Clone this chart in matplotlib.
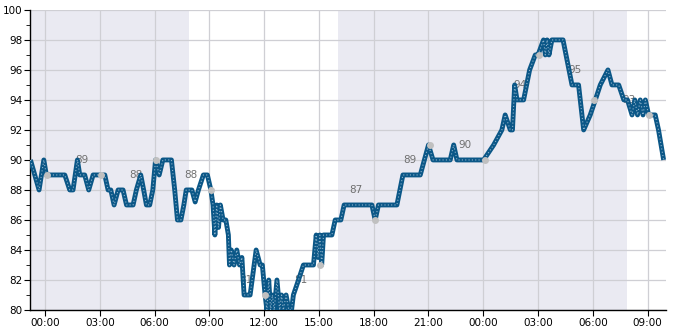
import matplotlib
matplotlib.use("Agg")
import matplotlib.pyplot as plt
from matplotlib.ticker import MultipleLocator

# hours since midnight of day 1
hours = [-0.8, -0.33, -0.07, 0.07, 1.08, 1.35, 1.53, 1.77, 1.90, 2.17, 2.39, 2.63,
         3.27, 3.45, 3.6, 3.78, 4.0, 4.27, 4.46, 4.82, 5.0, 5.24, 5.4, 5.55, 5.73,
         5.9, 6.05, 6.25, 6.45, 6.92, 7.1, 7.25, 7.44, 7.6, 7.73, 8.04, 8.22, 8.4,
         8.67, 8.89, 9.08, 9.2, 9.3, 9.4, 9.5, 9.6, 9.75, 9.9, 10.04, 10.1, 10.2,
         10.35, 10.5, 10.65, 10.78, 10.9, 11.23, 11.56, 11.78, 11.9, 12.05, 12.15,
         12.25, 12.35, 12.45, 12.55, 12.7, 12.85, 12.95, 13.05, 13.2, 13.35, 13.5,
         13.6, 13.88, 14.15, 14.7, 14.85, 14.95, 15.05, 15.15, 15.25, 15.71, 15.89,
         16.2, 16.38, 17.9, 18.08, 18.26, 19.27, 19.6, 20.55, 21.0, 21.25, 22.19,
         22.38, 22.56, 24.02, 24.57, 25.02, 25.2, 25.48, 25.6, 25.72, 25.85, 26.21,
         26.54, 26.85, 27.0, 27.3, 27.4, 27.5, 27.6, 27.76, 28.37, 28.86, 29.22,
         29.5, 29.86, 30.14, 30.41, 30.83, 31.05, 31.42, 31.7, 31.9, 32.15, 32.3,
         32.45, 32.6, 32.75, 32.88, 33.06, 33.42, 33.6, 33.88]
values = [90, 88, 90, 89, 89, 88, 88, 90, 89, 89, 88, 89,
          89, 88, 88, 87, 88, 88, 87, 87, 88, 89, 88, 87, 87,
          88, 90, 89, 90, 90, 88, 86, 86, 87, 88, 88, 87.2, 88,
          89, 89, 88, 87, 85, 87, 85.5, 87, 86, 86, 85, 83, 84,
          83, 84, 83, 83.5, 81, 81, 84, 83, 83, 81, 80,
          82, 80, 81, 80, 82, 80, 81, 80, 81, 80, 80,
          81, 82, 83, 83, 85, 83.5, 85, 83, 85, 85, 86,
          86, 87, 87, 86, 87, 87, 89, 89, 91, 90, 90,
          91, 90, 90, 91, 92, 93, 92, 92, 95, 94, 94,
          96, 97, 97, 98, 97, 98, 97, 98, 98, 95, 95,
          92, 93, 94, 95, 96, 95, 95, 94, 94, 93, 94,
          93, 94, 93, 94, 93, 93, 92, 90]

# 3-hourly readings (grey dots)
dot_hours = [0.1, 3.07, 6.08, 9.1, 12.05, 15.08, 18.08, 21.08, 24.07, 27.08, 30.08, 33.06]
dot_values = [89, 89, 90, 88, 81, 83, 86, 91, 90, 97, 94, 93]

# value labels
label_hours = [2, 5, 8, 11, 14, 17, 20, 23, 26, 29, 32]
label_values = [89, 88, 88, 81, 81, 87, 89, 90, 94, 95, 93]

# dark periods
night_spans = [(-0.8, 7.87), (16.02, 31.89)]

tick_hours = list(range(0, 34, 3))
tick_labels = ['%02d:00' % (h % 24) for h in tick_hours]

fig = plt.figure(figsize=(6.85, 3.3), dpi=100)
ax = fig.add_axes([0.0445, 0.0606, 0.9275, 0.9094])

for start, end in night_spans:
    ax.axvspan(start, end, color='#eaeaf2', zorder=0, lw=0)

ax.set_axisbelow(True)
ax.grid(True, color='#cfcfd4', lw=0.9)

for h, v in zip(label_hours, label_values):
    ax.text(h, v + 1, str(v), color='#707070', fontsize=7.5, ha='center', va='center', zorder=2)

ax.plot(hours, values, color='#0b5787', lw=3.5, zorder=3,
        solid_joinstyle='round', solid_capstyle='butt')
ax.plot(hours, values, color='#8fb3cc', lw=0.8, ls=(0, (1, 2)), zorder=4)
ax.plot(dot_hours, dot_values, 'o', color='#c0c0c0', ms=5, zorder=5, mec='none')

ax.set_xlim(-0.8, 34.0)
ax.set_ylim(80, 100)
ax.set_xticks(tick_hours)
ax.set_xticklabels(tick_labels)
ax.yaxis.set_major_locator(MultipleLocator(2))
ax.yaxis.set_minor_locator(MultipleLocator(1))
ax.tick_params(axis='both', labelsize=7.5, length=4, pad=2)
ax.tick_params(axis='y', which='minor', length=3)

for side in ['top', 'right']:
    ax.spines[side].set_visible(False)
for side in ['left', 'bottom']:
    ax.spines[side].set_color('black')
    ax.spines[side].set_linewidth(1)

fig.savefig('out.png', dpi=100)
